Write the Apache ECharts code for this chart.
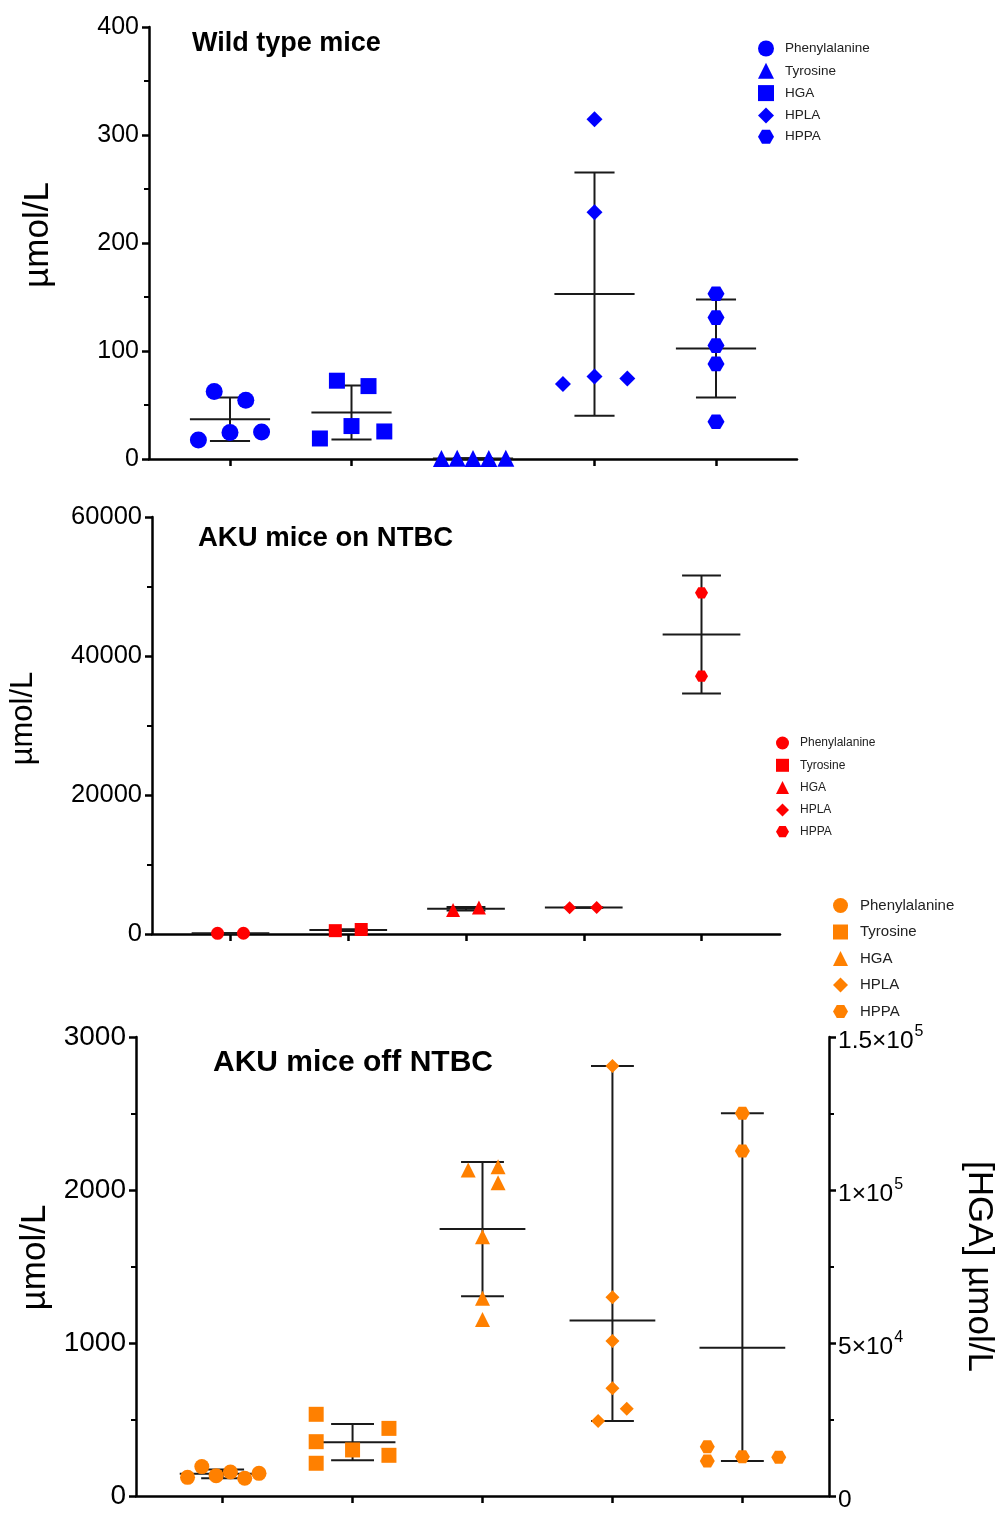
<!DOCTYPE html>
<html>
<head>
<meta charset="utf-8">
<script src="https://cdn.jsdelivr.net/npm/echarts@6/dist/echarts.min.js"></script>
<style>
  html, body { margin: 0; padding: 0; background: #fff; }
  #chart { width: 1001px; height: 1517px; }
</style>
</head>
<body>
<div id="chart"></div>
<script>
// ---- analytes (one column each, left to right) ----
const analytes = ['Phenylalanine', 'Tyrosine', 'HGA', 'HPLA', 'HPPA'];

// ---- Wild type mice, µmol/L ----
const wtPhenylalanine = [62.5, 54.5, 17.5, 24.5, 25];
const wtTyrosine      = [72.5, 67.5, 30.5, 19, 25.5];
const wtHGA           = [0.4, 0.6, 0.5, 0.5, 0.6];
const wtHPLA          = [314.5, 228.5, 69.5, 76.5, 74.5];
const wtHPPA          = [153, 131, 105, 88, 34.5];
// horizontal spread of the points inside each column (column widths)
const wtPhenylalanineSpread = [-0.13, 0.13, -0.26, 0, 0.26];
const wtTyrosineSpread      = [-0.12, 0.14, 0, -0.26, 0.27];
const wtHGASpread           = [-0.26, -0.13, 0, 0.13, 0.27];
const wtHPLASpread          = [0, 0, -0.26, 0, 0.27];
const wtHPPASpread          = [0, 0, 0, 0, 0];
const wtTicks = [0, 100, 200, 300, 400];

// ---- AKU mice on NTBC, µmol/L ----
const onPhenylalanine = [90, 110];
const onTyrosine      = [480, 650];
const onHGA           = [3450, 3800];
const onHPLA          = [3780, 3820];
const onHPPA          = [49100, 37100];
const onPhenylalanineSpread = [-0.11, 0.11];
const onTyrosineSpread      = [-0.11, 0.11];
const onHGASpread           = [-0.11, 0.11];
const onHPLASpread          = [-0.12, 0.11];
const onHPPASpread          = [0, 0];
const onTicks = [0, 20000, 40000, 60000];

// ---- AKU mice off NTBC, µmol/L (HGA read on the right-hand axis) ----
const offPhenylalanine = [122, 192, 133, 157, 116, 148];
const offTyrosine      = [534, 355, 214, 301, 442, 266];
const offHGA           = [106500, 107600, 102400, 84700, 64600, 57700];
const offHPLA          = [2810, 1299, 1013, 704, 571, 490];
const offHPPA          = [2501, 2255, 257, 322, 229, 253];
const offPhenylalanineSpread = [-0.27, -0.16, -0.05, 0.06, 0.17, 0.28];
const offTyrosineSpread      = [-0.28, -0.28, -0.28, 0, 0.28, 0.28];
const offHGASpread           = [-0.11, 0.12, 0.12, 0, 0, 0];
const offHPLASpread          = [0, 0, 0, 0, 0.11, -0.11];
const offHPPASpread          = [0, 0, 0, -0.27, -0.27, 0.28];
const offTicks    = [0, 1000, 2000, 3000];
const offHGATicks = [0, 50000, 100000, 150000];
// whisker type per column: standard deviation or min–max range
const offWhiskers = ['sd', 'sd', 'sd', 'range', 'range'];

// ---- styling ----
const FONT = 'Liberation Sans, Arial, Helvetica, sans-serif';
const HEX = 'path://M0,0.866 L0.5,0 L1.5,0 L2,0.866 L1.5,1.732 L0.5,1.732 Z';
const SYMBOLS = ['circle', 'rect', 'triangle', 'diamond', HEX];
// key icons of the wild type panel list triangle before square
const KEY_WT = ['circle', 'triangle', 'rect', 'diamond', HEX];
const MEAN_HALF = 0.33;   // half width of the mean bar, in column units
const CAP_HALF = 0.165;   // half width of the whisker caps
const INK = '#1a1a1a';

function mean(a) { return a.reduce((s, v) => s + v, 0) / a.length; }
function sd(a) {
  const m = mean(a);
  return Math.sqrt(a.reduce((s, v) => s + (v - m) * (v - m), 0) / (a.length - 1));
}
function whisker(a, kind) {
  const m = mean(a);
  if (kind === 'range') return [m, Math.min(...a), Math.max(...a)];
  const s = sd(a);
  return [m, m - s, m + s];
}

function renderWhisker(params, api) {
  const x = api.value(0), m = api.value(1), lo = api.value(2), hi = api.value(3);
  const seg = (x1, y1, x2, y2) => {
    const a = api.coord([x1, y1]), b = api.coord([x2, y2]);
    return { type: 'line', shape: { x1: a[0], y1: a[1], x2: b[0], y2: b[1] },
             style: { stroke: INK, lineWidth: 2 } };
  };
  return { type: 'group', children: [
    seg(x, lo, x, hi),
    seg(x - MEAN_HALF, m, x + MEAN_HALF, m),
    seg(x - CAP_HALF, lo, x + CAP_HALF, lo),
    seg(x - CAP_HALF, hi, x + CAP_HALF, hi)
  ]};
}

const series = [];
function addPanel(prefix, grid, color, sizes, columns, spreads, yAxes, whiskers) {
  columns.forEach((vals, i) => {
    const pos = i + 1;
    const stats = whisker(vals, whiskers ? whiskers[i] : 'sd');
    series.push({
      type: 'custom', name: prefix + ':bars' + i, silent: true,
      xAxisIndex: grid, yAxisIndex: yAxes[i], z: 2, clip: false,
      renderItem: renderWhisker,
      encode: { x: 0, y: [1, 2, 3] },
      data: [[pos, stats[0], stats[1], stats[2]]]
    });
    series.push({
      type: 'scatter', name: prefix + ':' + analytes[i],
      xAxisIndex: grid, yAxisIndex: yAxes[i], z: 3,
      symbol: SYMBOLS[i], symbolSize: sizes[i], symbolKeepAspect: true,
      itemStyle: { color: color, opacity: 1 },
      emphasis: { disabled: true },
      data: vals.map((v, j) => [pos + spreads[i][j], v])
    });
  });
}

addPanel('wt', 0, '#0000ff', [17, 16, 17, 16, 17],
  [wtPhenylalanine, wtTyrosine, wtHGA, wtHPLA, wtHPPA],
  [wtPhenylalanineSpread, wtTyrosineSpread, wtHGASpread, wtHPLASpread, wtHPPASpread],
  [0, 0, 0, 0, 0]);
addPanel('on', 1, '#ff0000', [13, 13, 14, 13, 13],
  [onPhenylalanine, onTyrosine, onHGA, onHPLA, onHPPA],
  [onPhenylalanineSpread, onTyrosineSpread, onHGASpread, onHPLASpread, onHPPASpread],
  [1, 1, 1, 1, 1]);
addPanel('off', 2, '#ff8000', [15, 15, 15, 14, 15],
  [offPhenylalanine, offTyrosine, offHGA, offHPLA, offHPPA],
  [offPhenylalanineSpread, offTyrosineSpread, offHGASpread, offHPLASpread, offHPPASpread],
  [2, 2, 3, 2, 2], offWhiskers);

// scientific tick text, e.g. 150000 -> 1.5×10^5
function sciLabel(v) {
  if (v === 0) return '{n|0}';
  const e = Math.floor(Math.log10(v));
  const m = +(v / Math.pow(10, e)).toFixed(2);
  return '{n|' + m + '×10}{sup|' + e + '}';
}

const axisLine = { show: true, lineStyle: { color: '#000', width: 2.5 } };
function xAxis(grid) {
  return {
    type: 'value', gridIndex: grid, min: 1 / 3, max: 17 / 3,
    axisLine: axisLine,
    axisTick: { show: true, customValues: [1, 2, 3, 4, 5], length: 7, lineStyle: { color: '#000', width: 2.5 } },
    axisLabel: { show: false }, splitLine: { show: false }
  };
}
// lift: moves the axis title along the axis, toward its top end
function yAxis(grid, ticks, fontSize, name, nameSize, nameGap, lift, extra) {
  return Object.assign({
    type: 'value', gridIndex: grid,
    min: ticks[0], max: ticks[ticks.length - 1], interval: ticks[1] - ticks[0],
    axisLine: axisLine,
    axisTick: { show: true, length: 7, lineStyle: { color: '#000', width: 2.5 } },
    minorTick: { show: true, splitNumber: 2, length: 5, lineStyle: { color: '#000', width: 2 } },
    splitLine: { show: false }, minorSplitLine: { show: false },
    axisLabel: { color: '#000', fontSize: fontSize, fontFamily: FONT, margin: 10,
                 formatter: v => String(v) },
    name: name, nameLocation: 'middle', nameRotate: 90, nameGap: nameGap,
    nameTextStyle: { color: '#000', fontSize: nameSize, fontFamily: FONT,
                     padding: [0, 0, 0, 2 * lift] }
  }, extra || {});
}

function legend(prefix, left, top, icon, font, gap, pad, icons) {
  return {
    orient: 'vertical', left: left, top: top, selectedMode: false,
    itemWidth: icon, itemHeight: icon, itemGap: gap, padding: 0,
    data: analytes.map((a, i) => ({ name: prefix + ':' + a, icon: icons[i] })),
    formatter: n => n.split(':')[1],
    textStyle: { color: '#222', fontSize: font, fontFamily: FONT, padding: [0, 0, 0, pad] }
  };
}

const option = {
  animation: false,
  backgroundColor: '#fff',
  title: [
    { text: 'Wild type mice', left: 187, top: 25,
      textStyle: { fontSize: 27, fontWeight: 'bold', color: '#000', fontFamily: FONT } },
    { text: 'AKU mice on NTBC', left: 193, top: 519,
      textStyle: { fontSize: 27.5, fontWeight: 'bold', color: '#000', fontFamily: FONT } },
    { text: 'AKU mice off NTBC', left: 208, top: 1043,
      textStyle: { fontSize: 30, fontWeight: 'bold', color: '#000', fontFamily: FONT } }
  ],
  legend: [
    legend('wt', 758, 40.5, 16, 13.5, 6.3, 6, KEY_WT),
    legend('on', 776, 736.5, 13, 12, 9.3, 6, SYMBOLS),
    legend('off', 833, 898, 15, 15, 11.5, 7, SYMBOLS)
  ],
  grid: [
    { left: 149, top: 27, width: 648, height: 432, outerBoundsMode: 'none' },
    { left: 152, top: 517, width: 628, height: 417, outerBoundsMode: 'none' },
    { left: 136, top: 1037, width: 693, height: 459, outerBoundsMode: 'none' }
  ],
  xAxis: [xAxis(0), xAxis(1), xAxis(2)],
  yAxis: [
    yAxis(0, wtTicks, 25, 'µmol/L', 35, 93, 8),
    yAxis(1, onTicks, 25.5, 'µmol/L', 31, 113, 7),
    yAxis(2, offTicks, 28, 'µmol/L', 35, 77, 9),
    yAxis(2, offHGATicks, 24, '[HGA] µmol/L', 35, 132, 0, {
      position: 'right', nameRotate: -90,
      axisLabel: {
        color: '#000', fontFamily: FONT, margin: 9,
        formatter: sciLabel,
        rich: {
          n: { fontSize: 24.5, fontFamily: FONT, color: '#000', padding: [8, 0, 0, 0] },
          sup: { fontSize: 16, fontFamily: FONT, color: '#000', padding: [0, 0, 10, 1] }
        }
      }
    })
  ],
  series: series
};

const chart = echarts.init(document.getElementById('chart'), null, { renderer: 'canvas' });
chart.setOption(option);
</script>
</body>
</html>
